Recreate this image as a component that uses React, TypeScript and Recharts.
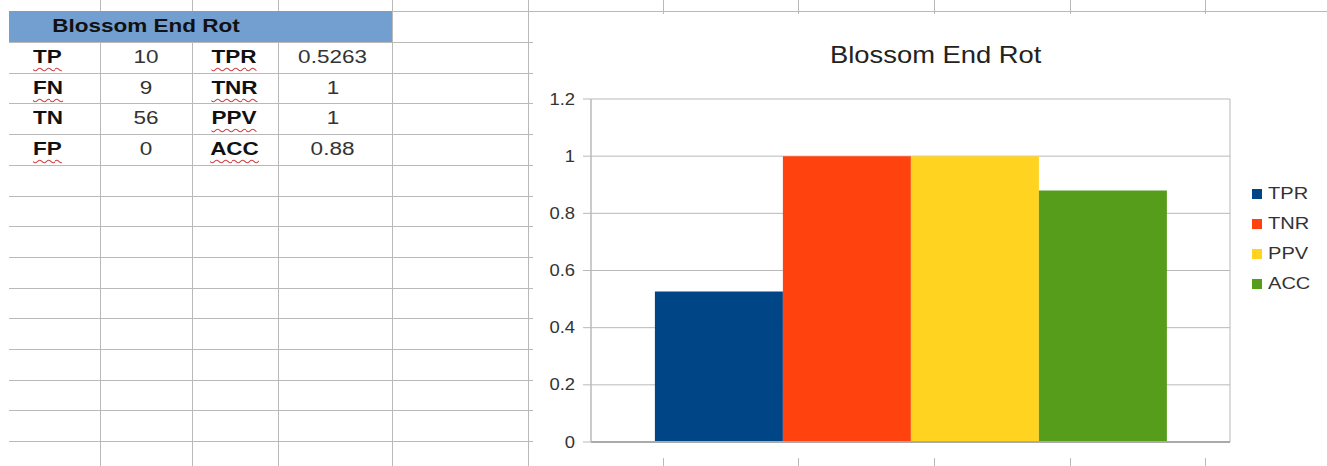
import { BarChart, Bar, XAxis, YAxis, CartesianGrid, Legend } from "recharts";

// metrics shown both in the sheet and in the chart
const metrics = ["TPR", "TNR", "PPV", "ACC"];
const metricValues = [0.5263, 1, 1, 0.88];
const metricColors = ["#004586", "#ff420e", "#ffd320", "#579d1c"];

// confusion counts in the sheet
const countLabels = ["TP", "FN", "TN", "FP"];
const countValues = [10, 9, 56, 0];

const yTicks = [0, 0.2, 0.4, 0.6, 0.8, 1, 1.2];
const title = "Blossom End Rot";

// words flagged by the spell checker
const flagged = ["TP", "FN", "FP", "TPR", "TNR", "PPV", "ACC"];

const chartData = [
  metrics.reduce((row: any, m, i) => {
    row[m] = metricValues[i];
    return row;
  }, { name: title }),
];

const FONT = "'Liberation Sans', Arial, sans-serif";
const GRID = "#b9b9b9";

const colX = [100, 192, 278, 392, 528, 663, 798, 934, 1070, 1205];
const rowTop = 42;
const rowH = 30.7;

const SheetGrid = () => {
  const lines = [];
  lines.push(<div key="top" style={{ position: "absolute", left: 9, top: 11, width: 1318, height: 1, background: GRID }} />);
  for (let i = 0; i < 14; i++) {
    lines.push(
      <div key={"h" + i} style={{ position: "absolute", left: 9, top: Math.round(rowTop + i * rowH), width: 1318, height: 1, background: GRID }} />
    );
  }
  colX.forEach((x) =>
    lines.push(<div key={"v" + x} style={{ position: "absolute", left: x, top: 0, width: 1, height: 466, background: GRID }} />)
  );
  return <>{lines}</>;
};

const Cell = ({ cx, row, text, bold }: any) => (
  <div
    style={{
      position: "absolute",
      left: cx - 60,
      width: 120,
      top: rowTop + row * rowH,
      height: rowH,
      lineHeight: rowH + "px",
      textAlign: "center",
      fontFamily: FONT,
      fontSize: 18,
      fontWeight: bold ? 700 : 400,
      color: bold ? "#111" : "#333",
    }}
  >
    <span
      style={{
        display: "inline-block",
        transform: "scaleX(1.25)",
        textDecoration: bold && flagged.includes(text) ? "underline wavy #d04040" : "none",
        textDecorationThickness: 1,
        textUnderlineOffset: 4,
      }}
    >
      {text}
    </span>
  </div>
);

const Sheet = () => (
  <>
    <SheetGrid />
    <div style={{ position: "absolute", left: 9, top: 11, width: 383, height: 31, background: "#729fcf" }} />
    <div
      style={{
        position: "absolute", left: 12, width: 269, top: 11, height: 31, lineHeight: "31px",
        textAlign: "center", fontFamily: FONT, fontSize: 18, fontWeight: 700, color: "#111",
      }}
    >
      <span style={{ display: "inline-block", transform: "scaleX(1.25)" }}>{title}</span>
    </div>
    {countLabels.map((l, i) => (
      <Cell key={"a" + i} cx={48} row={i} text={l} bold />
    ))}
    {countValues.map((v, i) => (
      <Cell key={"b" + i} cx={146} row={i} text={String(v)} />
    ))}
    {metrics.map((m, i) => (
      <Cell key={"c" + i} cx={234} row={i} text={m} bold />
    ))}
    {metricValues.map((v, i) => (
      <Cell key={"d" + i} cx={333} row={i} text={String(v)} />
    ))}
  </>
);

const YTick = ({ x, y, payload }: any) => (
  <g transform={`translate(${x},${y}) scale(1.15,1)`}>
    <text x={0} y={0} dy={5.5} textAnchor="end" fontSize={16} fontFamily={FONT} fill="#333">
      {String(payload.value)}
    </text>
  </g>
);

const LegendBox = ({ payload }: any) => {
  const items = [...(payload || [])].sort(
    (a: any, b: any) => metrics.indexOf(a.value) - metrics.indexOf(b.value)
  );
  return (
    <div style={{ paddingLeft: 22, paddingTop: 6 }}>
      {items.map((p: any) => (
        <div key={p.value} style={{ height: 29.7, display: "flex", alignItems: "center" }}>
          <span style={{ width: 10, height: 10, background: p.color, display: "inline-block" }} />
          <span
            style={{
              marginLeft: 6, fontFamily: FONT, fontSize: 17, color: "#333",
              display: "inline-block", transform: "scaleX(1.18)", transformOrigin: "left center",
            }}
          >
            {p.value}
          </span>
        </div>
      ))}
    </div>
  );
};

const App = () => {
  return (
    <div style={{ position: "absolute", left: 0, top: 0, width: 1327, height: 466, overflow: "hidden", background: "#fff" }}>
      <Sheet />
      <div style={{ position: "absolute", left: 533, top: 14, width: 794, height: 444, background: "#fff" }}>
        <div
          style={{
            position: "absolute", left: 0, width: 806, top: 29, height: 24, lineHeight: "24px",
            textAlign: "center", fontFamily: FONT, fontSize: 24, color: "#222",
          }}
        >
          <span style={{ display: "inline-block", transform: "scaleX(1.14)" }}>{title}</span>
        </div>
        <BarChart
          width={794}
          height={444}
          data={chartData}
          margin={{ top: 85, right: 17, bottom: 15, left: 8 }}
          barGap={0}
          barCategoryGap="10%"
        >
          <CartesianGrid
            stroke={GRID}
            verticalCoordinatesGenerator={({ offset }: any) => [offset.left, offset.left + offset.width]}
          />
          <XAxis dataKey="name" tick={false} tickLine={false} height={1} axisLine={{ stroke: "#aaaaaa", strokeWidth: 2 }} />
          <YAxis
            domain={[0, 1.2]}
            ticks={yTicks}
            width={50}
            tickSize={8}
            tickMargin={8}
            tick={<YTick />}
            axisLine={{ stroke: GRID }}
            tickLine={{ stroke: GRID }}
          />
          <Legend
            layout="vertical"
            align="right"
            verticalAlign="middle"
            content={<LegendBox />}
            wrapperStyle={{ width: 80 }}
          />
          {metrics.map((m, i) => (
            <Bar key={m} dataKey={m} fill={metricColors[i]} isAnimationActive={false} />
          ))}
        </BarChart>
      </div>
    </div>
  );
};

export default App;
